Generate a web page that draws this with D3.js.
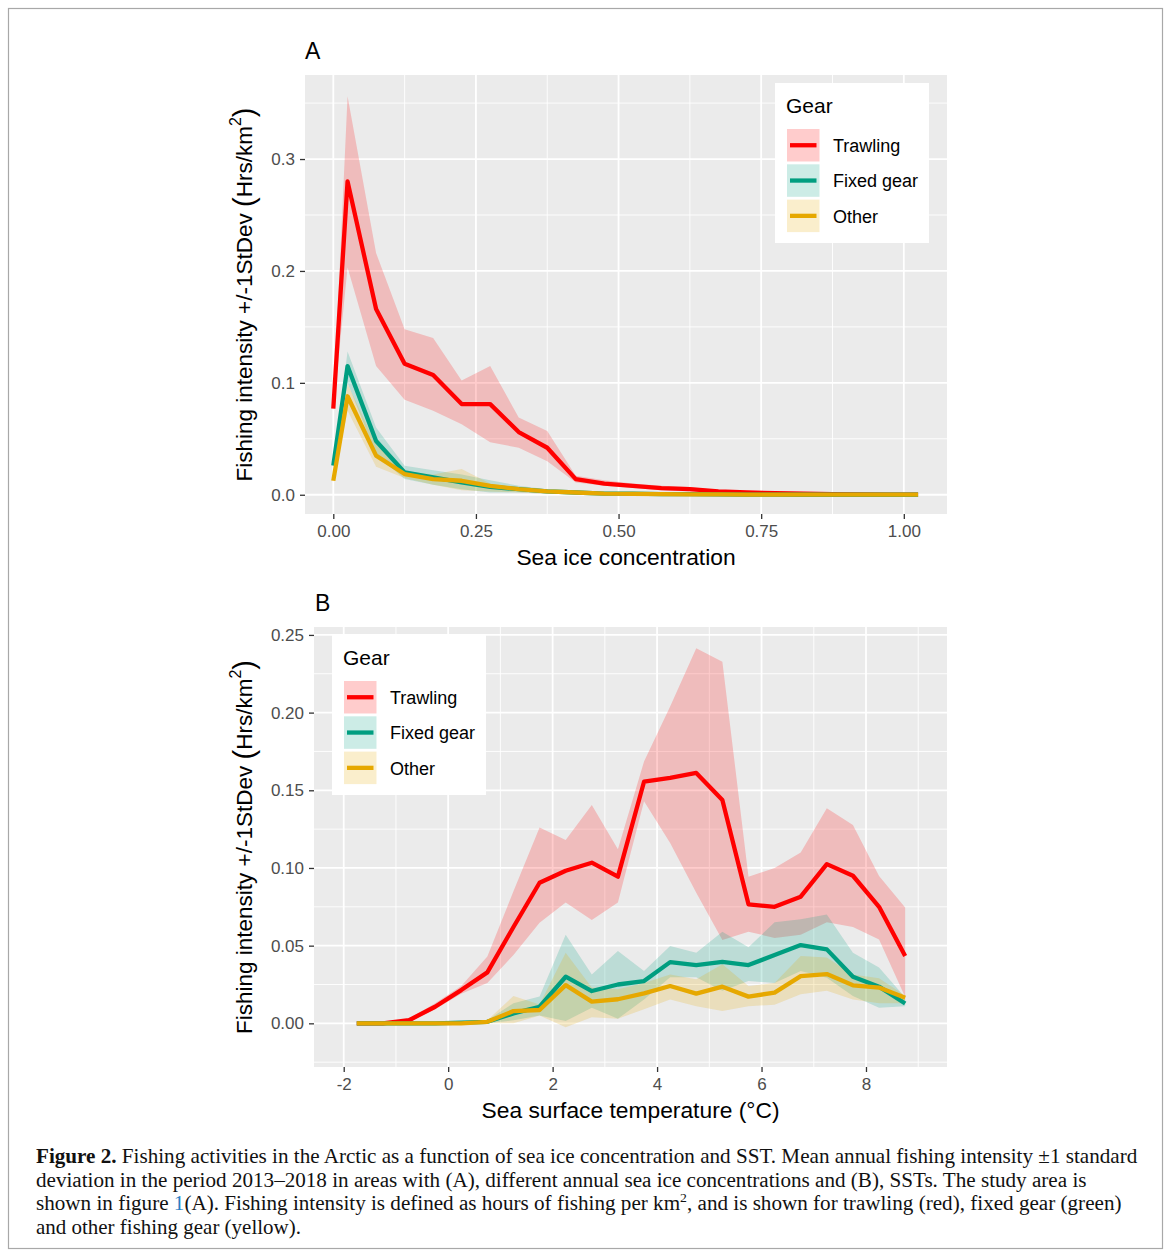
<!DOCTYPE html>
<html>
<head>
<meta charset="utf-8">
<script src="https://cdn.jsdelivr.net/npm/d3@7"></script>
<style>
  body { margin: 0; background: #fff; }
  text { font-family: "Liberation Sans", Arial, Helvetica, sans-serif; }
  .caption { font-family: "Liberation Serif", "Times New Roman", serif; }
</style>
</head>
<body>
<svg id="fig" width="1171" height="1258"></svg>
<script>
// gear names and colours, in drawing order
var gears = ["Trawling", "Fixed gear", "Other"];
var gearColors = ["#ff0000", "#009e80", "#e6a800"];

// panel A: sea ice concentration bins
var iceX = [0, 0.025, 0.075, 0.125, 0.175, 0.225, 0.275, 0.325, 0.375, 0.425, 0.475,
            0.525, 0.575, 0.625, 0.675, 0.725, 0.775, 0.825, 0.875, 0.925, 0.975, 1.025];
var trawlIce   = [0.077, 0.280, 0.166, 0.117, 0.107, 0.081, 0.081, 0.056, 0.042, 0.014, 0.010,
                  0.008, 0.006, 0.005, 0.003, 0.002, 0.0015, 0.001, 0.0005, 0.0003, 0.0002, 0.0001];
var trawlIceLo = [0.075, 0.203, 0.115, 0.085, 0.075, 0.063, 0.047, 0.042, 0.030, 0.011, 0.008,
                  0.006, 0.004, 0.003, 0.002, 0.001, 0.001, 0.0005, 0.0002, 0.0001, 0, 0];
var trawlIceHi = [0.079, 0.356, 0.216, 0.148, 0.140, 0.102, 0.115, 0.069, 0.057, 0.017, 0.013,
                  0.010, 0.008, 0.007, 0.004, 0.003, 0.002, 0.0015, 0.001, 0.0005, 0.0004, 0.0002];
var fixedIce   = [0.026, 0.115, 0.048, 0.020, 0.0155, 0.011, 0.007, 0.005, 0.003, 0.002, 0.001,
                  0.001, 0.0005, 0.0005, 0.0003, 0.0002, 0.0001, 0, 0, 0, 0, 0];
var fixedIceLo = [0.024, 0.100, 0.036, 0.014, 0.009, 0.005, 0.002, 0.002, 0.001, 0.0005, 0,
                  0, 0, 0, 0, 0, 0, 0, 0, 0, 0, 0];
var fixedIceHi = [0.028, 0.128, 0.060, 0.026, 0.022, 0.018, 0.013, 0.008, 0.005, 0.004, 0.002,
                  0.002, 0.001, 0.001, 0.0006, 0.0004, 0.0002, 0.0001, 0, 0, 0, 0];
var otherIce   = [0.0125, 0.088, 0.035, 0.0185, 0.014, 0.0125, 0.008, 0.005, 0.003, 0.002, 0.001,
                  0.0008, 0.0005, 0.0004, 0.0003, 0.0002, 0.0001, 0.0001, 0.0001, 0.0001, 0.0001, 0.0001];
var otherIceLo = [0.011, 0.075, 0.025, 0.015, 0.009, 0.004, 0.003, 0.002, 0.001, 0.0005, 0,
                  0, 0, 0, 0, 0, 0, 0, 0, 0, 0, 0];
var otherIceHi = [0.014, 0.099, 0.045, 0.021, 0.018, 0.023, 0.010, 0.006, 0.004, 0.003, 0.002,
                  0.001, 0.001, 0.0008, 0.0006, 0.0004, 0.0002, 0.0002, 0.0002, 0.0002, 0.0002, 0.0002];

// panel B: sea surface temperature bins
var sstX = [-1.75, -1.25, -0.75, -0.25, 0.25, 0.75, 1.25, 1.75, 2.25, 2.75, 3.25,
            3.75, 4.25, 4.75, 5.25, 5.75, 6.25, 6.75, 7.25, 7.75, 8.25, 8.75];
var trawlSst   = [0, 0, 0.002, 0.0107, 0.0214, 0.0328, 0.062, 0.0905, 0.0982, 0.1034, 0.0944,
                  0.1555, 0.158, 0.1612, 0.1437, 0.0766, 0.075, 0.0815, 0.1025, 0.095, 0.075, 0.0433];
var trawlSstLo = [0, 0, 0.001, 0.009, 0.019, 0.026, 0.044, 0.0648, 0.0777, 0.0665, 0.0777,
                  0.143, 0.116, 0.084, 0.0536, 0.059, 0.055, 0.057, 0.065, 0.062, 0.054, 0.017];
var trawlSstHi = [0, 0.0002, 0.003, 0.013, 0.024, 0.043, 0.085, 0.126, 0.118, 0.1405, 0.112,
                  0.1685, 0.204, 0.2415, 0.2328, 0.0943, 0.100, 0.110, 0.1384, 0.1277, 0.0948, 0.0745];
var fixedSst   = [0, 0, 0, 0, 0.0005, 0.001, 0.0064, 0.0107, 0.030, 0.0208, 0.025,
                  0.0272, 0.0394, 0.0375, 0.0395, 0.0375, 0.044, 0.0504, 0.0476, 0.030, 0.0236, 0.0128];
var fixedSstLo = [0, 0, 0, 0, 0, 0, 0.002, 0.005, 0.0015, 0.010, 0.003,
                  0.0154, 0.0296, 0.0296, 0.021, 0.0272, 0.026, 0.0337, 0.0294, 0.0176, 0.010, 0.011];
var fixedSstHi = [0, 0, 0, 0.0003, 0.001, 0.002, 0.013, 0.0172, 0.057, 0.0315, 0.0465,
                  0.0337, 0.0497, 0.0455, 0.059, 0.049, 0.065, 0.067, 0.070, 0.0455, 0.036, 0.0167];
var otherSst   = [0, 0, 0, 0, 0, 0.001, 0.0079, 0.0086, 0.0246, 0.014, 0.0155,
                  0.0193, 0.024, 0.0191, 0.0236, 0.0172, 0.0198, 0.0304, 0.0317, 0.0245, 0.023, 0.0165];
var otherSstLo = [0, 0, 0, 0, 0, 0, 0, 0.005, -0.0025, 0.004, 0.003,
                  0.009, 0.0154, 0.011, 0.008, 0.011, 0.012, 0.0187, 0.021, 0.0154, 0.013, 0.013];
var otherSstHi = [0, 0, 0, 0, 0.0005, 0.002, 0.0176, 0.0122, 0.0455, 0.023, 0.022,
                  0.026, 0.0315, 0.0283, 0.038, 0.024, 0.026, 0.0433, 0.0423, 0.0315, 0.029, 0.018];

// tick labels
var iceTicks = [0, 0.25, 0.5, 0.75, 1.0];
var iceTickLabels = ["0.00", "0.25", "0.50", "0.75", "1.00"];
var iceYTicks = [0, 0.1, 0.2, 0.3];
var iceYTickLabels = ["0.0", "0.1", "0.2", "0.3"];
var sstTicks = [-2, 0, 2, 4, 6, 8];
var sstTickLabels = ["-2", "0", "2", "4", "6", "8"];
var sstYTicks = [0, 0.05, 0.10, 0.15, 0.20, 0.25];
var sstYTickLabels = ["0.00", "0.05", "0.10", "0.15", "0.20", "0.25"];

var captionLines = [
  "Fishing activities in the Arctic as a function of sea ice concentration and SST. Mean annual fishing intensity \u00b11 standard",
  "deviation in the period 2013\u20132018 in areas with (A), different annual sea ice concentrations and (B), SSTs. The study area is",
  "shown in figure |1|(A). Fishing intensity is defined as hours of fishing per km^2^, and is shown for trawling (red), fixed gear (green)",
  "and other fishing gear (yellow)."
];

var svg = d3.select("#fig");

// outer frame of the figure
svg.append("rect")
  .attr("x", 8.5).attr("y", 8.5).attr("width", 1154).attr("height", 1240)
  .style("fill", "none").style("stroke", "#a8a8a8").style("stroke-width", 1.2);

// turn a list of x values and three lists of y values into row objects
function rows(xs, mid, lo, hi){
  return xs.map(function(x, i){ return {x: x, y: mid[i], lo: lo[i], hi: hi[i]}; });
}

/**
 * draw one ggplot-like panel
 * cfg holds the box, the domains, the ticks, the series and the legend box
 */
function drawPanel(cfg){
  var g = svg.append("g");
  var x = d3.scaleLinear().domain(cfg.xDomain).range([cfg.left, cfg.right]);
  var y = d3.scaleLinear().domain(cfg.yDomain).range([cfg.bottom, cfg.top]);

  // grey panel
  g.append("rect")
    .attr("x", cfg.left).attr("y", cfg.top)
    .attr("width", cfg.right - cfg.left).attr("height", cfg.bottom - cfg.top)
    .style("fill", "#ebebeb");

  // minor grid then major grid
  var grid = g.append("g");
  grid.selectAll("line.xminor").data(cfg.xMinor).enter().append("line")
    .attr("x1", d => x(d)).attr("x2", d => x(d)).attr("y1", cfg.top).attr("y2", cfg.bottom)
    .style("stroke", "#fff").style("stroke-width", 0.9);
  grid.selectAll("line.yminor").data(cfg.yMinor).enter().append("line")
    .attr("y1", d => y(d)).attr("y2", d => y(d)).attr("x1", cfg.left).attr("x2", cfg.right)
    .style("stroke", "#fff").style("stroke-width", 0.9);
  grid.selectAll("line.xmajor").data(cfg.xTicks).enter().append("line")
    .attr("x1", d => x(d)).attr("x2", d => x(d)).attr("y1", cfg.top).attr("y2", cfg.bottom)
    .style("stroke", "#fff").style("stroke-width", 1.8);
  grid.selectAll("line.ymajor").data(cfg.yTicks).enter().append("line")
    .attr("y1", d => y(d)).attr("y2", d => y(d)).attr("x1", cfg.left).attr("x2", cfg.right)
    .style("stroke", "#fff").style("stroke-width", 1.8);

  // ribbons (+/- 1 sd)
  var area = d3.area().x(d => x(d.x)).y0(d => y(d.lo)).y1(d => y(d.hi));
  cfg.series.forEach(function(s, i){
    g.append("path").datum(s)
      .attr("d", area)
      .style("fill", gearColors[i]).style("fill-opacity", 0.2);
  });

  // mean lines
  var line = d3.line().x(d => x(d.x)).y(d => y(d.y));
  cfg.series.forEach(function(s, i){
    g.append("path").datum(s)
      .attr("d", line)
      .style("fill", "none").style("stroke", gearColors[i])
      .style("stroke-width", 4.3).style("stroke-linejoin", "round");
  });

  // x axis
  var xAxis = d3.axisBottom(x).tickValues(cfg.xTicks).tickSize(5).tickPadding(6)
    .tickFormat((d, i) => cfg.xTickLabels[i]);
  var ax = g.append("g").attr("transform", "translate(0," + cfg.bottom + ")").call(xAxis);
  ax.select(".domain").remove();
  ax.selectAll(".tick line").style("stroke", "#333").style("stroke-width", 1.3);
  ax.selectAll(".tick text").style("fill", "#4d4d4d").style("font-size", "17px")
    .style("font-family", "Liberation Sans, Arial, sans-serif");

  // y axis
  var yAxis = d3.axisLeft(y).tickValues(cfg.yTicks).tickSize(5).tickPadding(5)
    .tickFormat((d, i) => cfg.yTickLabels[i]);
  var ay = g.append("g").attr("transform", "translate(" + cfg.left + ",0)").call(yAxis);
  ay.select(".domain").remove();
  ay.selectAll(".tick line").style("stroke", "#333").style("stroke-width", 1.3);
  ay.selectAll(".tick text").style("fill", "#4d4d4d").style("font-size", "17px")
    .style("font-family", "Liberation Sans, Arial, sans-serif");

  // axis titles
  g.append("text")
    .attr("x", (cfg.left + cfg.right) / 2).attr("y", cfg.bottom + 51)
    .attr("text-anchor", "middle")
    .style("font-size", "22.8px").style("fill", "#000")
    .text(cfg.xTitle);

  var yt = g.append("text")
    .attr("transform", "translate(" + cfg.yTitleX + "," + ((cfg.top + cfg.bottom) / 2) + ") rotate(-90)")
    .attr("text-anchor", "middle")
    .style("font-size", "22.5px").style("fill", "#000");
  yt.append("tspan").text("Fishing intensity +/-1StDev ");
  yt.append("tspan").style("font-size", "29px").attr("dy", 2).text("(");
  yt.append("tspan").attr("dy", -2).text("Hrs/km");
  yt.append("tspan").style("font-size", "16px").attr("dy", -11).text("2");
  yt.append("tspan").style("font-size", "29px").attr("dy", 13).text(")");

  // panel tag
  g.append("text")
    .attr("x", cfg.tagX).attr("y", cfg.top - 16)
    .style("font-size", "23px").style("fill", "#000")
    .text(cfg.tag);

  // legend
  var lg = g.append("g").attr("transform", "translate(" + cfg.legendX + "," + cfg.legendY + ")");
  lg.append("rect").attr("width", 154).attr("height", 160).style("fill", "#fff");
  lg.append("text").attr("x", 11).attr("y", 30)
    .style("font-size", "21px").style("fill", "#000").text("Gear");
  gears.forEach(function(name, i){
    var ky = 46 + i * 35.3;
    lg.append("rect").attr("x", 12).attr("y", ky).attr("width", 32.5).attr("height", 32.5)
      .style("fill", gearColors[i]).style("fill-opacity", 0.2);
    lg.append("line").attr("x1", 15).attr("x2", 41.5).attr("y1", ky + 16.25).attr("y2", ky + 16.25)
      .style("stroke", gearColors[i]).style("stroke-width", 4.3);
    lg.append("text").attr("x", 58).attr("y", ky + 23)
      .style("font-size", "18px").style("fill", "#000").text(name);
  });
}

drawPanel({
  tag: "A", tagX: 305,
  left: 305, right: 947, top: 75, bottom: 514,
  xDomain: [-0.0496, 1.0757], yDomain: [-0.0172, 0.3751],
  xTicks: iceTicks, xTickLabels: iceTickLabels, xMinor: [0.125, 0.375, 0.625, 0.875],
  yTicks: iceYTicks, yTickLabels: iceYTickLabels, yMinor: [0.05, 0.15, 0.25, 0.35],
  xTitle: "Sea ice concentration", yTitleX: 252,
  legendX: 775, legendY: 83,
  series: [rows(iceX, trawlIce, trawlIceLo, trawlIceHi),
           rows(iceX, fixedIce, fixedIceLo, fixedIceHi),
           rows(iceX, otherIce, otherIceLo, otherIceHi)]
});

drawPanel({
  tag: "B", tagX: 315,
  left: 314, right: 947, top: 627, bottom: 1067,
  xDomain: [-2.569, 9.551], yDomain: [-0.0281, 0.2551],
  xTicks: sstTicks, xTickLabels: sstTickLabels, xMinor: [-1, 1, 3, 5, 7, 9],
  yTicks: sstYTicks, yTickLabels: sstYTickLabels, yMinor: [-0.025, 0.025, 0.075, 0.125, 0.175, 0.225],
  xTitle: "Sea surface temperature (\u00b0C)", yTitleX: 252,
  legendX: 332, legendY: 635,
  series: [rows(sstX, trawlSst, trawlSstLo, trawlSstHi),
           rows(sstX, fixedSst, fixedSstLo, fixedSstHi),
           rows(sstX, otherSst, otherSstLo, otherSstHi)]
});

// caption: each line is squeezed to the width it has in the journal layout
var capTargets = [1102, 1051, 1086, 265];
var cap = svg.append("g").attr("class", "caption");
captionLines.forEach(function(txt, i){
  var lineG = cap.append("g");
  var t = lineG.append("text").attr("class", "caption")
    .attr("x", 0).attr("y", 0)
    .style("font-size", "20px").style("fill", "#111");
  if (i == 0) {
    t.append("tspan").style("font-weight", "bold").text("Figure 2.");
    t.append("tspan").text(" ");
  }
  // split on | for the blue link and ^ for the superscript
  var shift = 0;
  txt.split(/(\|[^|]*\||\^[^^]*\^)/).forEach(function(part){
    if (part == "") return;
    if (part[0] == "|") {
      t.append("tspan").style("fill", "#2a7fc4").attr("dy", shift).text(part.slice(1, -1));
      shift = 0;
    } else if (part[0] == "^") {
      t.append("tspan").attr("dy", -8).style("font-size", "13px").text(part.slice(1, -1));
      shift = 8;
    } else {
      t.append("tspan").attr("dy", shift).text(part);
      shift = 0;
    }
  });
  var w = t.node().getComputedTextLength();
  var sx = capTargets[i] / w;
  lineG.attr("transform", "translate(36," + (1163 + i * 23.5) + ") scale(" + sx + ",1)");
});
</script>
</body>
</html>
